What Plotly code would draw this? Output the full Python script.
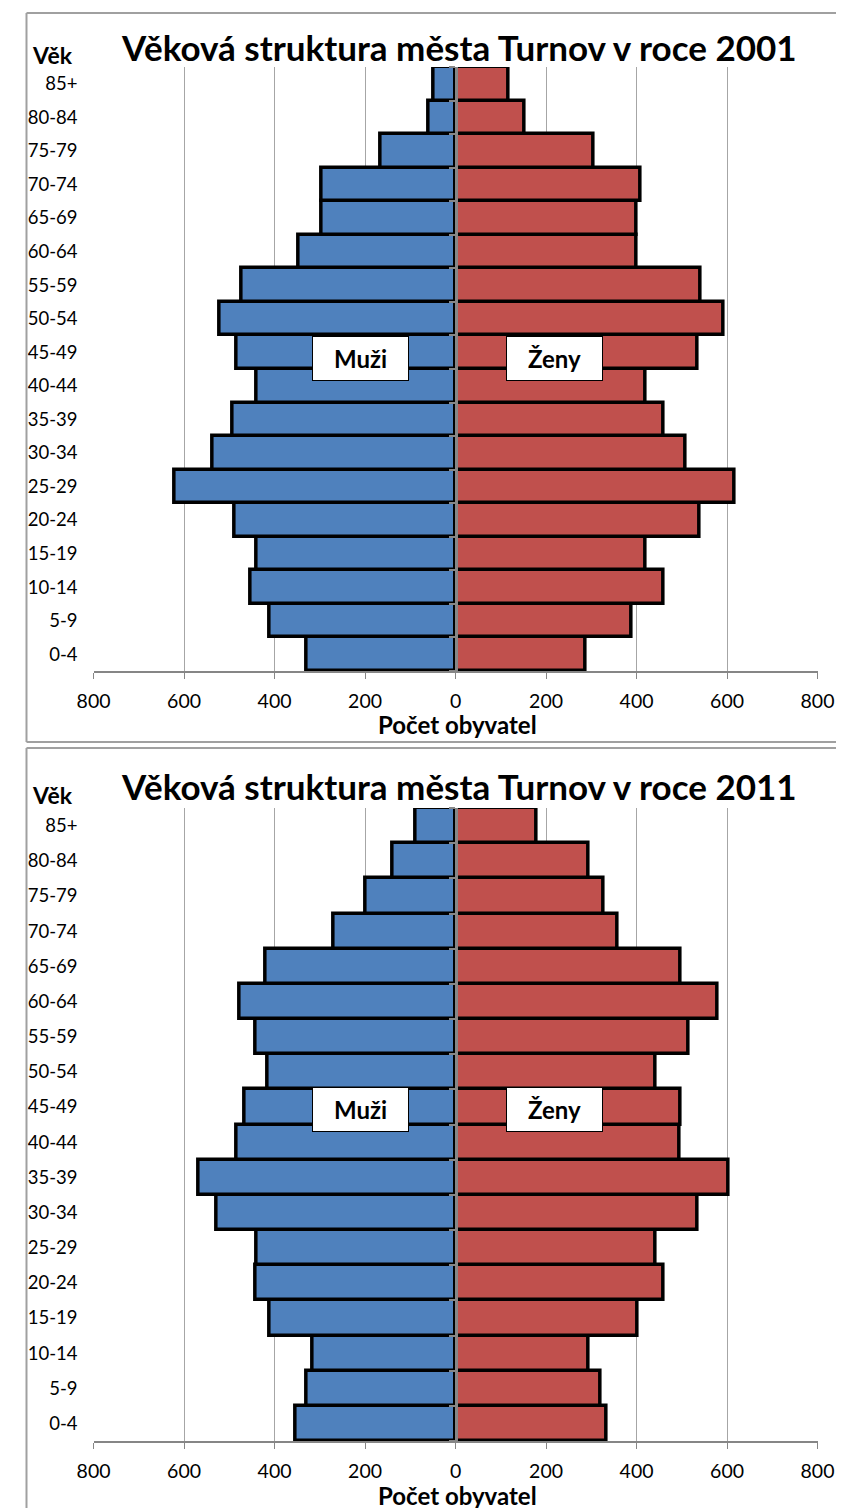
import plotly.graph_objects as go

W, H = 845, 1508
# In the rendered page the figure occupies x = 24..836.5 and starts 8 px from the top,
# so reference pixel positions are converted with that offset and width.
FIG_LEFT, FIG_W, FIG_TOP = 24.0, 812.5, 8.0

age_groups = ["0-4", "5-9", "10-14", "15-19", "20-24", "25-29", "30-34", "35-39",
              "40-44", "45-49", "50-54", "55-59", "60-64", "65-69", "70-74",
              "75-79", "80-84", "85+"]

men_2001 = [330, 410, 453, 439, 488, 620, 538, 492, 440, 483, 522, 472, 348, 297, 296, 166, 60, 48]
women_2001 = [287, 388, 460, 421, 540, 617, 509, 460, 421, 535, 592, 541, 401, 400, 408, 304, 152, 117]

men_2011 = [353, 330, 316, 410, 443, 440, 528, 567, 485, 466, 416, 443, 478, 419, 270, 198, 139, 88]
women_2011 = [334, 321, 294, 403, 459, 441, 534, 604, 495, 498, 443, 515, 578, 498, 358, 328, 294, 179]

titles = ["Věková struktura města Turnov v roce 2001", "Věková struktura města Turnov v roce 2011"]
tick_vals = [-800, -600, -400, -200, 0, 200, 400, 600, 800]
tick_text = ["800", "600", "400", "200", "0", "200", "400", "600", "800"]

BLUE = "#4F81BD"
RED = "#C0504D"
GRID = "#A6A6A6"
AXIS = "#868686"
BORDER = "#A0A0A0"
FONT = "Lato"

def px(x):
    return (x - FIG_LEFT) / FIG_W

def py(y):
    return 1 - (y - FIG_TOP) / H

X0, X1 = 92.7, 818.0
XZERO = (X0 + X1) / 2
panels = [
    dict(top=67, bottom=671, men=men_2001, women=women_2001, title=titles[0],
         title_y=47, vek_y=55, box_y=358, xtitle_y=724, btop=13, bbottom=742),
    dict(top=808, bottom=1441, men=men_2011, women=women_2011, title=titles[1],
         title_y=786, vek_y=795, box_y=1109, xtitle_y=1495, btop=748, bbottom=None),
]

fig = go.Figure()
annotations = []
shapes = []

for i, p in enumerate(panels, start=1):
    xa = "x" if i == 1 else f"x{i}"
    ya = "y" if i == 1 else f"y{i}"
    yo = f"y{i + 2}"
    fig.add_trace(go.Bar(
        y=age_groups, x=[-v for v in p["men"]], orientation="h",
        marker=dict(color=BLUE, line=dict(color="black", width=3.5)),
        width=1, xaxis=xa, yaxis=ya, showlegend=False, name="Muži"))
    fig.add_trace(go.Bar(
        y=age_groups, x=p["women"], orientation="h",
        marker=dict(color=RED, line=dict(color="black", width=3.5)),
        width=1, xaxis=xa, yaxis=ya, showlegend=False, name="Ženy"))
    fig.add_trace(go.Scatter(
        y=age_groups, x=[0] * len(age_groups), mode="markers",
        marker=dict(opacity=0), hoverinfo="skip", xaxis=xa, yaxis=yo, showlegend=False))

    xkey = "xaxis" if i == 1 else f"xaxis{i}"
    ykey = "yaxis" if i == 1 else f"yaxis{i}"
    dom = [py(p["bottom"]), py(p["top"])]
    fig.layout[xkey] = dict(
        domain=[px(X0), px(X1)], range=[-800, 800], anchor=ya,
        tickvals=tick_vals, ticktext=tick_text,
        showgrid=True, gridcolor=GRID, gridwidth=1,
        zeroline=False, showline=True, linecolor=AXIS, linewidth=2,
        ticks="outside", ticklen=6, tickcolor=AXIS, tickwidth=1,
        tickfont=dict(family=FONT, size=19.5, color="black"),
        ticklabelstandoff=6, fixedrange=True)
    fig.layout[ykey] = dict(
        domain=dom, anchor=xa,
        type="category", categoryorder="array", categoryarray=age_groups,
        range=[-0.5, len(age_groups) - 0.5],
        showgrid=False, zeroline=False, showline=False, ticks="",
        tickfont=dict(family=FONT, size=18.5, color="black"),
        ticklabelstandoff=15, fixedrange=True)
    fig.layout[f"yaxis{i + 2}"] = dict(
        overlaying=ya, anchor="free", position=px(XZERO),
        type="category", categoryorder="array", categoryarray=age_groups,
        range=[-0.5, len(age_groups) - 0.5],
        showgrid=False, zeroline=False, showline=True, linecolor=AXIS, linewidth=2.5,
        ticks="outside", tickson="boundaries", ticklen=6, tickcolor=AXIS, tickwidth=1.5,
        showticklabels=False, layer="above traces", fixedrange=True)

    bl = dict(color=BORDER, width=2)
    lx = px(25.5)
    bottom_frac = py(p["bbottom"]) if p["bbottom"] is not None else 0
    shapes.append(dict(type="line", xref="paper", yref="paper", x0=lx, x1=1,
                       y0=py(p["btop"]), y1=py(p["btop"]), line=bl))
    shapes.append(dict(type="line", xref="paper", yref="paper", x0=lx, x1=lx,
                       y0=py(p["btop"]), y1=bottom_frac, line=bl))
    if p["bbottom"] is not None:
        shapes.append(dict(type="line", xref="paper", yref="paper", x0=lx, x1=1,
                           y0=py(p["bbottom"]), y1=py(p["bbottom"]), line=bl))

    annotations.append(dict(text=f"<b>{p['title']}</b>", xref="paper", yref="paper",
                            x=px(458.5), y=py(p["title_y"]), xanchor="center", yanchor="middle",
                            showarrow=False, font=dict(family=FONT, size=35, color="black")))
    annotations.append(dict(text="<b>Věk</b>", xref="paper", yref="paper",
                            x=px(52), y=py(p["vek_y"]), xanchor="center", yanchor="middle",
                            showarrow=False, font=dict(family=FONT, size=23, color="black")))
    annotations.append(dict(text="<b>Počet obyvatel</b>", xref="paper", yref="paper",
                            x=px(457), y=py(p["xtitle_y"]), xanchor="center", yanchor="middle",
                            showarrow=False, font=dict(family=FONT, size=24, color="black")))
    for label, cx in (("Muži", 360), ("Ženy", 554)):
        annotations.append(dict(text=f"<b>{label}</b>", xref="paper", yref="paper",
                                x=px(cx), y=py(p["box_y"]), xanchor="center", yanchor="middle",
                                showarrow=False, width=93, height=41, align="center", valign="middle",
                                bgcolor="white", bordercolor="black", borderwidth=1, borderpad=1,
                                font=dict(family=FONT, size=24, color="black")))

fig.update_layout(
    width=W, height=H, margin=dict(l=0, r=0, t=0, b=0),
    paper_bgcolor="white", plot_bgcolor="white",
    barmode="overlay", bargap=0,
    annotations=annotations, shapes=shapes,
)

fig.write_html("out.html")
